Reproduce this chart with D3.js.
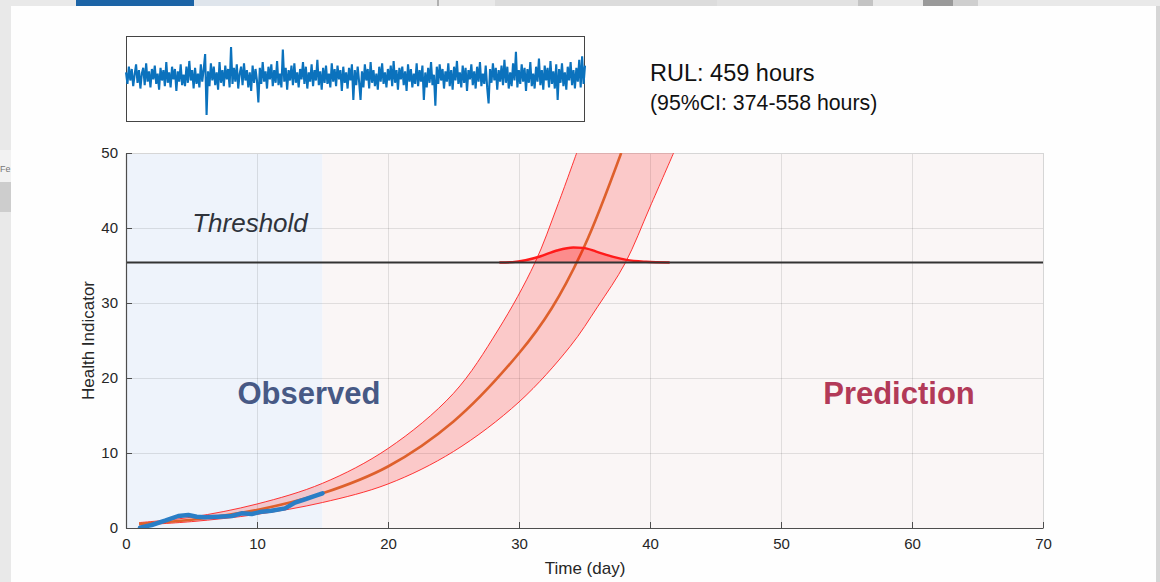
<!DOCTYPE html>
<html>
<head>
<meta charset="utf-8">
<script src="https://cdn.jsdelivr.net/npm/d3@7"></script>
<style>
  html, body { margin: 0; padding: 0; background: #e7e7e7; }
  svg { display: block; font-family: "Liberation Sans", Arial, sans-serif; }
</style>
</head>
<body>
<svg id="chart" width="1160" height="582"></svg>
<script>
// ---------------- data ----------------
const xTicks = [0, 10, 20, 30, 40, 50, 60, 70];
const yTicks = [0, 10, 20, 30, 40, 50];
const observedEnd = 15;
const threshold = 35.4;

// observed health indicator (day, value)
const obsDay   = [1.07, 1.96, 2.98, 3.99, 4.76, 5.4, 6.03, 7.05, 8.07, 8.83, 9.6, 10.36, 11.1, 12.14, 12.9, 13.66, 14.43, 15.0];
const obsValue = [0.04, 0.4, 0.98, 1.6, 1.73, 1.51, 1.42, 1.51, 1.6, 1.96, 1.87, 2.18, 2.31, 2.62, 3.38, 3.82, 4.27, 4.62];

// predicted median trajectory
const medDay   = [1, 5, 10, 15, 20, 25, 30, 32.5, 35, 37.8];
const medValue = [0.55, 1.1, 2.4, 4.62, 8.2, 14.2, 23.3, 29.3, 37.6, 50];

// 95% band, upper and lower edges
const upDay    = [1, 5, 10, 15, 20, 25, 28.4, 31.2, 32.9, 34.4];
const upValue  = [0.72, 1.45, 3.2, 5.96, 10.6, 17.96, 26.4, 35.3, 42.8, 50];
const loDay    = [1, 5, 10, 15, 20, 25, 30, 33.9, 36, 38.1, 40, 41.8];
const loValue  = [0.4, 0.85, 1.82, 3.4, 5.87, 10.2, 16.8, 24.2, 29.5, 35.3, 42.8, 50];

// RUL distribution drawn on the threshold (day, height above threshold)
const pdfDay    = [28.5, 29.5, 30.5, 31.6, 32.9, 34.15, 34.9, 35.9, 37.2, 38.2, 39.7, 41.5];
const pdfHeight = [0, 0.05, 0.3, 0.8, 1.6, 2.0, 1.95, 1.45, 0.75, 0.35, 0.1, 0];

// vibration signal in the inset (arbitrary units)
const signal = [
  4,-6,9,-3,7,-8,2,11,-5,6,-10,3,8,-7,12,-4,5,-9,7,-2,
  10,-6,3,-11,8,-3,6,-8,13,-5,4,-9,9,-2,7,-12,5,-4,11,-7,
  2,-8,9,-5,14,-3,6,-10,8,-6,3,-9,11,-4,7,20,-33,5,-8,12,
  -3,9,-7,4,-11,13,-5,6,-8,10,-2,7,-9,26,-6,8,-4,11,-10,3,
  9,-7,12,-3,6,-9,4,-12,10,-5,7,-3,-22,8,-6,13,-4,5,-10,9,
  -2,11,-8,6,-5,14,-7,3,-9,24,-4,8,-11,6,-3,10,-7,12,-5,4,
  -9,7,-2,13,-6,9,-10,4,-4,11,-8,6,-3,15,-7,5,-11,8,-5,10,
  -6,3,-9,12,-4,7,-8,10,-2,6,-12,9,-5,4,-10,8,-3,11,-20,6,
  -7,9,-4,-20,5,-9,11,-3,7,-10,13,-5,6,-8,3,-11,9,-4,12,-6,
  4,-9,7,-3,10,-8,14,-5,6,-11,8,-2,9,-7,5,-12,11,-4,7,-9,
  3,-6,12,-8,6,-4,10,-20,4,-9,8,-5,13,-7,2,-25,9,-6,11,-3,
  7,-10,5,-4,12,-8,6,-11,9,-3,14,-6,4,-9,10,-5,8,-12,6,-2,
  11,-7,5,-10,9,-4,13,-8,3,-6,10,-9,-23,7,-5,12,-3,8,-11,6,
  -4,10,-7,15,-5,9,-10,4,-8,12,-3,22,-9,6,-6,11,-4,8,-12,7,
  -5,13,-8,3,-10,9,-4,16,-7,6,-11,10,-3,8,-9,14,-6,5,-10,11,
  -20,7,-5,12,-8,4,-11,9,-3,13,-7,6,-10,8,-4,15,-9,18,-6,10
];

const rulText = "RUL: 459 hours";
const ciText = "(95%CI: 374-558 hours)";

// ---------------- drawing ----------------
const svg = d3.select("#chart");

// window chrome around the figure
const chrome = svg.append("g");
chrome.append("rect").attr("x", 0).attr("y", 0).attr("width", 1160).attr("height", 582).attr("fill", "#e9e9e9");
chrome.append("rect").attr("x", 76).attr("y", 0).attr("width", 118).attr("height", 6).attr("fill", "#1c64a6");
chrome.append("rect").attr("x", 194).attr("y", 0).attr("width", 76).attr("height", 6).attr("fill", "#dfe5ec");
chrome.append("rect").attr("x", 437).attr("y", 0).attr("width", 2).attr("height", 6).attr("fill", "#b0b0b0");
chrome.append("rect").attr("x", 495).attr("y", 0).attr("width", 222).attr("height", 6).attr("fill", "#dcdcdc");
chrome.append("rect").attr("x", 717).attr("y", 0).attr("width", 141).attr("height", 6).attr("fill", "#e2e2e2");
chrome.append("rect").attr("x", 858).attr("y", 0).attr("width", 15).attr("height", 6).attr("fill", "#c4c4c4");
chrome.append("rect").attr("x", 923).attr("y", 0).attr("width", 30).attr("height", 6).attr("fill", "#9a9a9a");
chrome.append("rect").attr("x", 953).attr("y", 0).attr("width", 25).attr("height", 6).attr("fill", "#cfcfcf");
chrome.append("rect").attr("x", 0).attr("y", 150).attr("width", 11).attr("height", 32).attr("fill", "#f2f2f2");
chrome.append("rect").attr("x", 0).attr("y", 182).attr("width", 11).attr("height", 30).attr("fill", "#cdcdcd");
chrome.append("text").attr("x", 0).attr("y", 172).attr("font-size", 9).attr("fill", "#777").text("Fe");
chrome.append("rect").attr("x", 11).attr("y", 6).attr("width", 1145).attr("height", 576).attr("fill", "#fefefe");
chrome.append("rect").attr("x", 1156).attr("y", 6).attr("width", 4).attr("height", 576).attr("fill", "#d6d6d6");

// main axes
const x = d3.scaleLinear().domain([0, 70]).range([126, 1043]);
const y = d3.scaleLinear().domain([0, 50]).range([528, 153]);

svg.append("defs").append("clipPath").attr("id", "plotClip")
  .append("rect").attr("x", x(0)).attr("y", y(50)).attr("width", x(70) - x(0)).attr("height", y(0) - y(50));

// regions
svg.append("rect").attr("x", x(0)).attr("y", y(50)).attr("width", x(observedEnd) - x(0)).attr("height", y(0) - y(50)).attr("fill", "#eef3fb");
svg.append("rect").attr("x", x(observedEnd)).attr("y", y(50)).attr("width", x(70) - x(observedEnd)).attr("height", y(0) - y(50)).attr("fill", "#faf6f6");

// grid
const grid = svg.append("g").attr("stroke", "#000").attr("stroke-opacity", 0.1).attr("stroke-width", 1);
grid.selectAll("line.v").data(xTicks.slice(1, -1)).join("line")
  .attr("x1", d => Math.round(x(d)) + 0.5).attr("x2", d => Math.round(x(d)) + 0.5)
  .attr("y1", y(50)).attr("y2", y(0));
grid.selectAll("line.h").data(yTicks.slice(1, -1)).join("line")
  .attr("y1", d => Math.round(y(d)) + 0.5).attr("y2", d => Math.round(y(d)) + 0.5)
  .attr("x1", x(0)).attr("x2", x(70));

// box (top and right, light)
svg.append("line").attr("x1", x(0)).attr("x2", x(70)).attr("y1", y(50) + 0.5).attr("y2", y(50) + 0.5).attr("stroke", "#d6d6d6");
svg.append("line").attr("x1", x(70) + 0.5).attr("x2", x(70) + 0.5).attr("y1", y(50)).attr("y2", y(0)).attr("stroke", "#d6d6d6");

const plot = svg.append("g").attr("clip-path", "url(#plotClip)");

const lineGen = d3.line().x(d => x(d[0])).y(d => y(d[1])).curve(d3.curveCatmullRom.alpha(0.5));
const up = upDay.map((d, i) => [d, upValue[i]]);
const lo = loDay.map((d, i) => [d, loValue[i]]);
const med = medDay.map((d, i) => [d, medValue[i]]);
const obs = obsDay.map((d, i) => [d, obsValue[i]]);

// confidence band
const loRevPath = lineGen(lo.slice().reverse());
const bandPath = lineGen(up) + loRevPath.replace(/^M/, "L") + "Z";
plot.append("path").attr("d", bandPath).attr("fill", "#ff0000").attr("fill-opacity", 0.18).attr("stroke", "none");
plot.append("path").attr("d", lineGen(up)).attr("fill", "none").attr("stroke", "#ff2020").attr("stroke-width", 0.9);
plot.append("path").attr("d", lineGen(lo)).attr("fill", "none").attr("stroke", "#ff2020").attr("stroke-width", 0.9);

// median
plot.append("path").attr("d", lineGen(med)).attr("fill", "none").attr("stroke", "#de602c").attr("stroke-width", 2.6);

// threshold
svg.append("line").attr("x1", x(0)).attr("x2", x(70)).attr("y1", y(threshold)).attr("y2", y(threshold))
  .attr("stroke", "#333333").attr("stroke-width", 2.2);

// RUL pdf
const pdfLine = d3.line().x(d => x(d[0])).y(d => y(d[1])).curve(d3.curveMonotoneX);
const pdf = pdfDay.map((d, i) => [d, threshold + pdfHeight[i]]);
const pdfArea = d3.area().x(d => x(d[0])).y0(y(threshold)).y1(d => y(d[1])).curve(d3.curveMonotoneX);
plot.append("path").attr("d", pdfArea(pdf)).attr("fill", "#ff0000").attr("fill-opacity", 0.3);
plot.append("path").attr("d", pdfLine(pdf)).attr("fill", "none").attr("stroke", "#ff1a1a").attr("stroke-width", 2.4);

// observed data
plot.append("path").attr("d", d3.line().x(d => x(d[0])).y(d => y(d[1]))(obs))
  .attr("fill", "none").attr("stroke", "#2a7ec6").attr("stroke-width", 4.5)
  .attr("stroke-linejoin", "round").attr("stroke-linecap", "round");

// axes
const xAxis = d3.axisBottom(x).tickValues(xTicks).tickFormat(d3.format("d")).tickSizeInner(-6).tickSizeOuter(0).tickPadding(10);
const yAxis = d3.axisLeft(y).tickValues(yTicks).tickFormat(d3.format("d")).tickSizeInner(-6).tickSizeOuter(0).tickPadding(8);
const gx = svg.append("g").attr("transform", `translate(0,${y(0)})`).call(xAxis);
const gy = svg.append("g").attr("transform", `translate(${x(0)},0)`).call(yAxis);
[gx, gy].forEach(g => {
  g.select(".domain").attr("stroke", "#4d4d4d").attr("stroke-width", 1.2);
  g.selectAll(".tick line").attr("stroke", "#4d4d4d");
  g.selectAll(".tick text").attr("fill", "#262626").attr("font-size", 15).attr("font-family", "Liberation Sans, Arial, sans-serif");
});

svg.append("text").attr("x", 585).attr("y", 574).attr("text-anchor", "middle").attr("font-size", 17).attr("fill", "#262626").text("Time (day)");
svg.append("text").attr("transform", `translate(94,${(y(0) + y(50)) / 2}) rotate(-90)`).attr("text-anchor", "middle")
  .attr("font-size", 17).attr("fill", "#262626").text("Health Indicator");

// annotations
svg.append("text").attr("x", 250).attr("y", 232).attr("text-anchor", "middle").attr("font-size", 26).attr("font-style", "italic").attr("fill", "#2f333b").text("Threshold");
svg.append("text").attr("x", 309).attr("y", 404).attr("text-anchor", "middle").attr("font-size", 31).attr("font-weight", "bold").attr("fill", "#475985").text("Observed");
svg.append("text").attr("x", 899).attr("y", 404).attr("text-anchor", "middle").attr("font-size", 31).attr("font-weight", "bold").attr("fill", "#b23a58").text("Prediction");

svg.append("text").attr("x", 650).attr("y", 81).attr("font-size", 23.5).attr("fill", "#111").text(rulText);
svg.append("text").attr("x", 650).attr("y", 110).attr("font-size", 21.3).attr("fill", "#111").text(ciText);

// inset signal
const ix = d3.scaleLinear().domain([0, signal.length - 1]).range([126, 585]);
const iy = d3.scaleLinear().domain([-39.1, 35.7]).range([122, 36]);
svg.append("rect").attr("x", 126.5).attr("y", 36.5).attr("width", 458).attr("height", 85).attr("fill", "#fff").attr("stroke", "#444");
svg.append("path").attr("d", d3.line().x((d, i) => ix(i)).y(d => iy(d))(signal))
  .attr("fill", "none").attr("stroke", "#0b72bd").attr("stroke-width", 2.1).attr("stroke-linejoin", "bevel");
</script>
</body>
</html>
